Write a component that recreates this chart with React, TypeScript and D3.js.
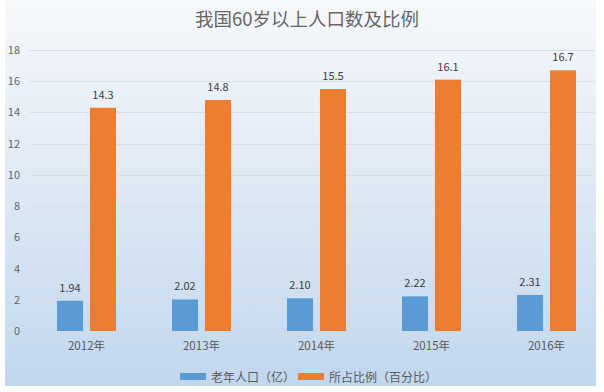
import React, { useEffect, useRef } from 'react';
import * as d3 from 'd3';

const years = ['2012年', '2013年', '2014年', '2015年', '2016年'];
const elderly = [1.94, 2.02, 2.1, 2.22, 2.31];
const share = [14.3, 14.8, 15.5, 16.1, 16.7];
const seriesNames = ['老年人口（亿）', '所占比例（百分比）'];
const yTicks = [0, 2, 4, 6, 8, 10, 12, 14, 16, 18];

const colors = ['#5b9bd5', '#ed7d31'];
const font = '"Noto Sans CJK SC", "Noto Sans", sans-serif';

export default function App() {
  const ref = useRef<SVGSVGElement>(null);

  useEffect(() => {
    const svg = d3.select(ref.current);
    svg.selectAll('*').remove();

    const W = 604;
    const H = 392;

    // background gradient
    const defs = svg.append('defs');
    const grad = defs
      .append('linearGradient')
      .attr('id', 'bg')
      .attr('x1', 0)
      .attr('y1', 0)
      .attr('x2', 0)
      .attr('y2', 1);
    grad.append('stop').attr('offset', '0%').attr('stop-color', '#f6f8fb');
    grad.append('stop').attr('offset', '45%').attr('stop-color', '#e0eaf5');
    grad.append('stop').attr('offset', '100%').attr('stop-color', '#c1d7ee');

    svg.append('rect').attr('width', W).attr('height', H).attr('fill', '#fff');
    svg
      .append('rect')
      .attr('x', 5)
      .attr('y', 0)
      .attr('width', 591)
      .attr('height', 386)
      .attr('fill', 'url(#bg)');

    const y = d3.scaleLinear().domain([0, 18]).range([331, 50]);
    const x0 = d3.scaleBand<string>().domain(years).range([29, 604]);
    const x1 = d3
      .scaleBand<number>()
      .domain([0, 1])
      .range([-29.5, 29.5])
      .paddingInner(0.21);

    // gridlines
    svg
      .append('g')
      .selectAll('line')
      .data(yTicks)
      .enter()
      .append('line')
      .attr('x1', 30)
      .attr('x2', 594)
      .attr('y1', (d) => Math.round(y(d)) + 0.5)
      .attr('y2', (d) => Math.round(y(d)) + 0.5)
      .attr('stroke', (d) => (d === 0 ? '#d0d8e2' : '#d8dfe8'))
      .attr('stroke-width', 1);

    // y labels
    svg
      .append('g')
      .selectAll('text')
      .data(yTicks)
      .enter()
      .append('text')
      .attr('x', 20)
      .attr('y', (d) => y(d) + 4)
      .attr('text-anchor', 'end')
      .attr('font-size', 11)
      .attr('font-family', font)
      .attr('fill', '#666')
      .text((d) => d);

    // title
    svg
      .append('text')
      .attr('x', 307)
      .attr('y', 26)
      .attr('text-anchor', 'middle')
      .attr('font-size', 18.5)
      .attr('font-family', font)
      .attr('fill', '#666')
      .text('我国60岁以上人口数及比例');

    const data = [elderly, share];
    data.forEach((vals, si) => {
      const g = svg.append('g');
      g.selectAll('rect')
        .data(vals)
        .enter()
        .append('rect')
        .attr('x', (d, i) => x0(years[i])! + x0.bandwidth() / 2 + x1(si)!)
        .attr('y', (d) => y(d))
        .attr('width', x1.bandwidth())
        .attr('height', (d) => y(0) - y(d))
        .attr('fill', colors[si]);
      g.selectAll('text')
        .data(vals)
        .enter()
        .append('text')
        .attr(
          'x',
          (d, i) =>
            x0(years[i])! + x0.bandwidth() / 2 + x1(si)! + x1.bandwidth() / 2
        )
        .attr('y', (d) => y(d) - 9)
        .attr('text-anchor', 'middle')
        .attr('font-size', 11)
        .attr('font-family', font)
        .attr('fill', '#404040')
        .text((d) => (si === 0 ? d.toFixed(2) : d.toFixed(1)));
    });

    // x labels
    svg
      .append('g')
      .selectAll('text')
      .data(years)
      .enter()
      .append('text')
      .attr('x', (d) => x0(d)! + x0.bandwidth() / 2)
      .attr('y', 350)
      .attr('text-anchor', 'middle')
      .attr('font-size', 11.5)
      .attr('font-family', font)
      .attr('fill', '#595959')
      .text((d) => d);

    // legend
    const legendX = [180, 298];
    seriesNames.forEach((name, i) => {
      const lg = svg.append('g').attr('transform', `translate(${legendX[i]}, 377)`);
      lg.append('rect')
        .attr('x', 0)
        .attr('y', -4)
        .attr('width', 26)
        .attr('height', 7)
        .attr('fill', colors[i]);
      lg.append('text')
        .attr('x', 31)
        .attr('y', 4.5)
        .attr('font-size', 12)
        .attr('font-family', font)
        .attr('fill', '#595959')
        .text(name);
    });
  }, []);

  return (
    <div style={{ position: 'absolute', left: 0, top: 0 }}>
      <svg ref={ref} width={604} height={392} style={{ display: 'block' }} />
    </div>
  );
}
